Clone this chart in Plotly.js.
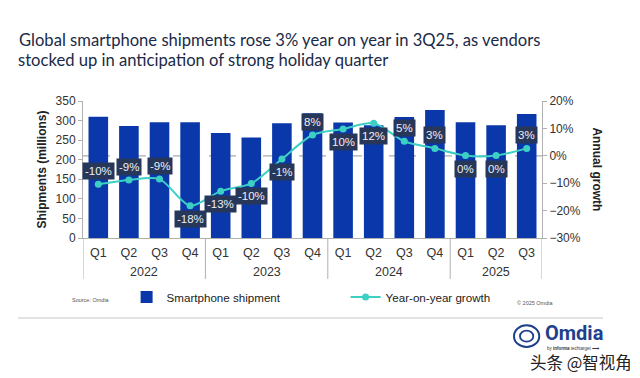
<!DOCTYPE html>
<html><head><meta charset="utf-8">
<script src="https://cdn.plot.ly/plotly-3.0.1.min.js"></script>
<style>body{margin:0;background:#fff}#chart{width:640px;height:378px}</style>
</head><body><div id="chart"></div>
<script>
const years = ['2022','2022','2022','2022','2023','2023','2023','2023','2024','2024','2024','2024','2025','2025','2025'];
const quarters = ['Q1','Q2','Q3','Q4','Q1','Q2','Q3','Q4','Q1','Q2','Q3','Q4','Q1','Q2','Q3'];
const shipments = [310,286,296,296,268,257,293,319,295,288,309,327,296,288,317];
const growth = [-10.4,-8.8,-8.5,-18.2,-12.9,-10.1,-1.2,7.6,9.8,11.9,5.3,2.7,0.1,0.1,2.7];
const growthLabels = ['-10%','-9%','-9%','-18%','-13%','-10%','-1%','8%','10%','12%','5%','3%','0%','0%','3%'];
const labelSide = [1,1,1,-1,-1,-1,-1,1,-1,-1,1,1,-1,-1,1];
const titleLines = ['Global smartphone shipments rose 3% year on year in 3Q25, as vendors',
                    'stocked up in anticipation of strong holiday quarter'];

const FONT = 'Liberation Sans, Arial, sans-serif';
const TFONT = {family:'Lato, Open Sans, sans-serif', size:16.6, color:'#1a2a48'};
const idx = quarters.map((q,i)=>i);

const barTrace = {
  type:'bar', name:'Smartphone shipment', x:idx, y:shipments,
  marker:{color:'#0a38aa'}, hoverinfo:'skip'
};
const lineTrace = {
  type:'scatter', mode:'lines+markers', name:'Year-on-year growth',
  x:idx, y:growth, yaxis:'y2',
  line:{color:'#3ccfc4', width:2, shape:'spline', smoothing:0.8},
  marker:{color:'#3ccfc4', size:7}, hoverinfo:'skip'
};

// year groups derived from the years array
const groups = [];
years.forEach((y,i)=>{
  if (!groups.length || groups[groups.length-1].year !== y) groups.push({year:y, start:i, end:i});
  else groups[groups.length-1].end = i;
});

const annotations = growth.map((g,i)=>({
  x:i, y:g, xref:'x', yref:'y2', text:growthLabels[i], showarrow:false,
  yshift: labelSide[i]*13, bgcolor:'#27375a', borderpad:2,
  font:{family:FONT, size:11.5, color:'#eef0f4'}
}));
groups.forEach(g=>annotations.push({
  x:(g.start+g.end)/2, y:-0.248, xref:'x', yref:'paper', text:g.year, showarrow:false,
  xanchor:'center', yanchor:'middle', font:{family:FONT, size:12.5, color:'#333'}
}));
annotations.push(
  {xref:'paper', yref:'paper', x:-0.146, y:1.30, xanchor:'left', yanchor:'middle', text:titleLines[1], showarrow:false, font:TFONT},
  {xref:'paper', yref:'paper', x:1.12, y:0.5, xanchor:'center', yanchor:'middle', text:'<b>Annual growth</b>', textangle:90, showarrow:false,
   font:{family:FONT, size:12, color:'#222'}},
  {xref:'paper', yref:'paper', x:-0.0283, y:-0.4526, xanchor:'left', yanchor:'middle', text:'Source: Omdia', showarrow:false,
   font:{family:FONT, size:5.5, color:'#555'}},
  {xref:'paper', yref:'paper', x:0.941, y:-0.474, xanchor:'left', yanchor:'middle', text:'© 2025 Omdia', showarrow:false,
   font:{family:FONT, size:5.5, color:'#555'}},
  {xref:'paper', yref:'paper', x:1.003, y:-0.693, xanchor:'left', yanchor:'middle', text:'<b>Omdia</b>', showarrow:false,
   font:{family:'Roboto, '+FONT, size:20, color:'#1d3f8c'}},
  {xref:'paper', yref:'paper', x:1.006, y:-0.81, xanchor:'left', yanchor:'middle', text:'by <b>informa</b> techtarget ⟶', showarrow:false,
   font:{family:FONT, size:4.5, color:'#333'}},
  {xref:'paper', yref:'paper', x:0.9695, y:-0.905, xanchor:'left', yanchor:'middle', text:'头条 @智视角', showarrow:false,
   font:{family:'Noto Sans CJK SC', size:16.5, color:'#222'}}
);

const shapes = [
  {type:'line', xref:'paper', yref:'y2', x0:0, x1:1, y0:0, y1:0, line:{color:'#aaaaaa', width:1.2, dash:'dash'}, layer:'below'},
  {type:'line', xref:'paper', yref:'paper', x0:-0.1416, x1:1.133, y0:-0.584, y1:-0.584, line:{color:'#c8c8c8', width:1}},
  {type:'circle', xref:'paper', yref:'paper', x0:0.939, x1:0.994, y0:-0.796, y1:-0.637, line:{color:'#1d3f8c', width:2}},
  {type:'circle', xref:'paper', yref:'paper', x0:0.952, x1:0.981, y0:-0.757, y1:-0.676, line:{color:'#1d3f8c', width:1.8}}
];
// group dividers at year boundaries
const bounds = [groups[0].start-0.5].concat(groups.map(g=>g.end+0.5));
bounds.forEach(b=>shapes.push({type:'line', xref:'x', yref:'paper', x0:b, x1:b, y0:0, y1:-0.299,
  line:{color:'#b0b0b0', width:1}}));

const layout = {
  width:640, height:378,
  margin:{l:83, r:98, t:101, b:140},
  paper_bgcolor:'#fff', plot_bgcolor:'#fff',
  title:{text:titleLines[0],
    x:19/640, xanchor:'left', xref:'container', y:1-40/378, yanchor:'middle', yref:'container',
    font:TFONT},
  bargap:0.36,
  showlegend:true,
  legend:{orientation:'h', x:0.095, y:-0.431, xanchor:'left', yanchor:'middle',
    font:{family:FONT, size:11.6, color:'#222'},
    entrywidth:174, entrywidthmode:'pixels', itemwidth:30, bgcolor:'rgba(0,0,0,0)'},
  xaxis:{range:[-0.5, quarters.length-0.5], tickvals:idx, ticktext:quarters, showline:true, linecolor:'#b0b0b0', linewidth:1,
    ticks:'', ticklabelstandoff:3, zeroline:false,
    tickfont:{family:FONT, size:12.5, color:'#333'}, showgrid:false},
  yaxis:{range:[0,350], dtick:50, showgrid:false, zeroline:false, showline:true, linecolor:'#b0b0b0',
    ticks:'outside', ticklen:4, tickcolor:'#b0b0b0',
    tickfont:{family:FONT, size:12, color:'#333'},
    title:{text:'<b>Shipments (millions)</b>', font:{family:FONT, size:12, color:'#222'}, standoff:6}},
  yaxis2:{overlaying:'y', side:'right', range:[-30,20], dtick:10, ticksuffix:'%', showgrid:false, zeroline:false,
    showline:true, linecolor:'#b0b0b0', ticks:'outside', ticklen:4, tickcolor:'#b0b0b0',
    tickfont:{family:FONT, size:12, color:'#333'}},
  shapes:shapes,
  annotations:annotations
};
Plotly.newPlot('chart',[barTrace, lineTrace], layout, {displayModeBar:false, staticPlot:true});
</script></body></html>
